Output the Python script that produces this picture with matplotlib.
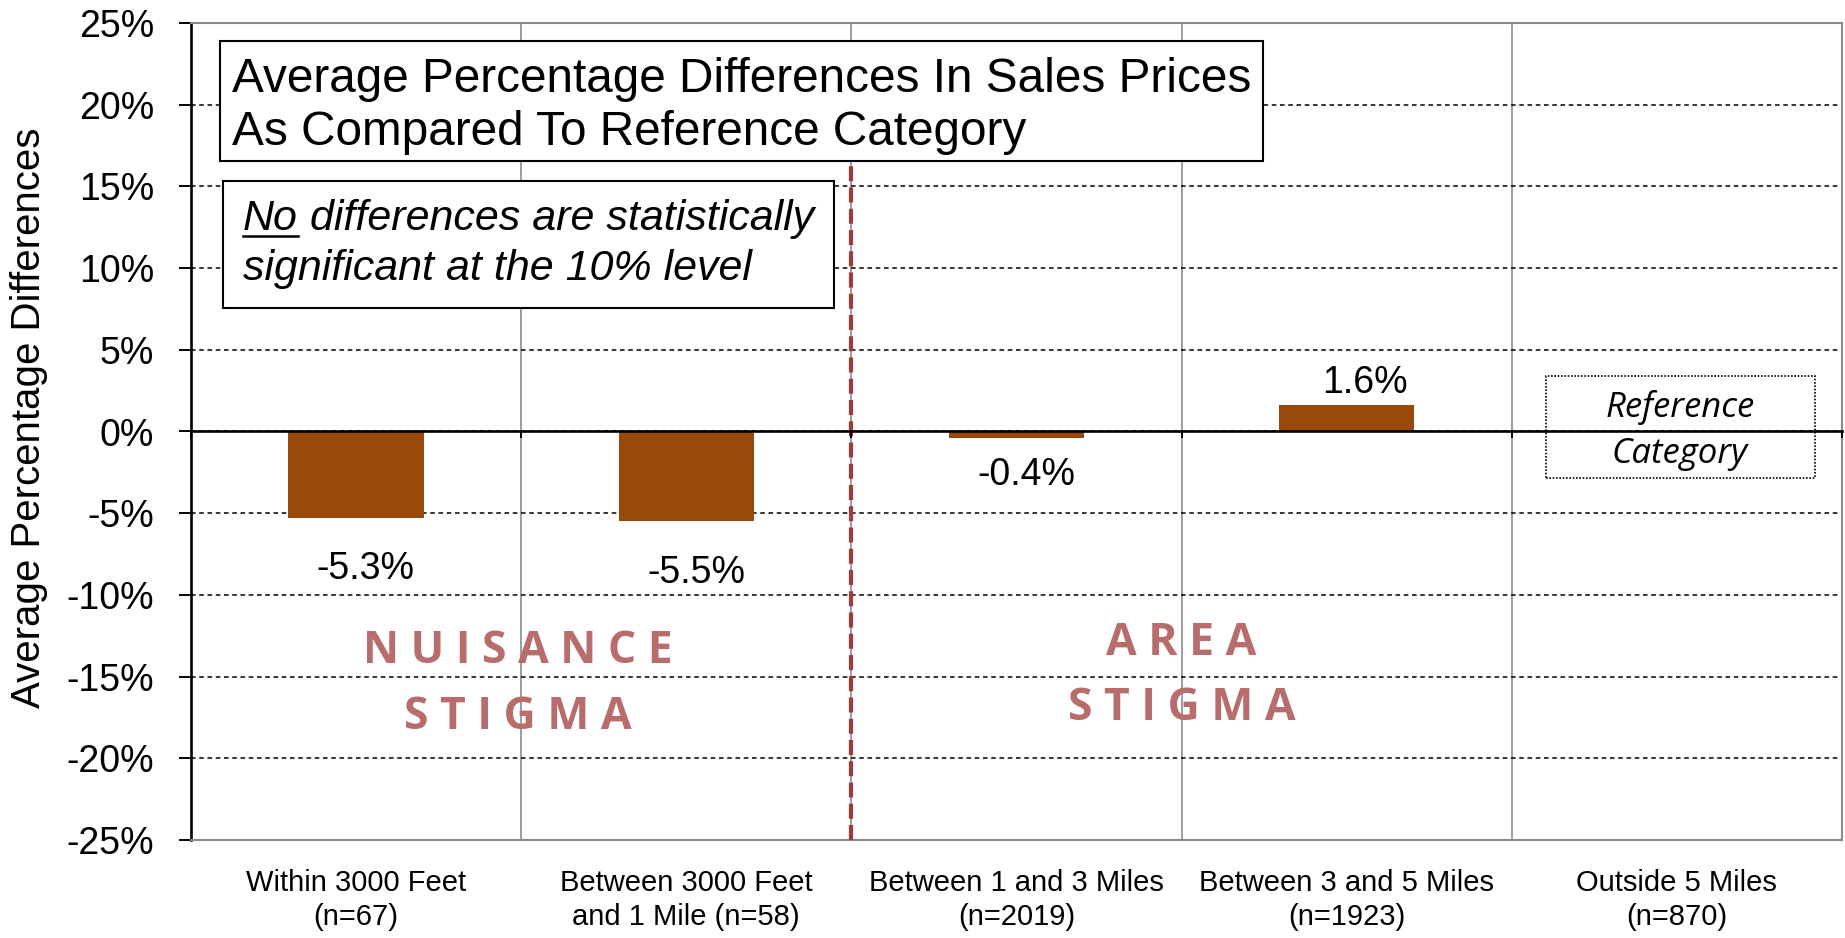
import numpy as np
import matplotlib
matplotlib.use("Agg")
import matplotlib.pyplot as plt
from matplotlib.patches import Rectangle
from matplotlib.lines import Line2D

plt.rcParams['font.family'] = ['Liberation Sans', 'DejaVu Sans']

# data
categories = [
    "Within 3000 Feet\n(n=67)",
    "Between 3000 Feet\nand 1 Mile (n=58)",
    "Between 1 and 3 Miles\n(n=2019)",
    "Between 3 and 5 Miles\n(n=1923)",
    "Outside 5 Miles\n(n=870)",
]
values = [-5.3, -5.5, -0.4, 1.6, np.nan]
value_labels = ["-5.3%", "-5.5%", "-0.4%", "1.6%", ""]
y_ticks = [-25, -20, -15, -10, -5, 0, 5, 10, 15, 20, 25]

# label offsets in points (x, y) from the bar end
label_offsets = [(7, -24), (7, -24.5), (7, -14), (13, 3)]

W, H, DPI = 1845, 938, 100
BAR_COLOR = '#984909'
STIGMA_COLOR = '#B86C6C'


def fx(x):
    return x / W


def fy(y):
    return 1 - y / H


fig = plt.figure(figsize=(W / DPI, H / DPI), dpi=DPI)
ax = fig.add_axes([fx(191), fy(840), fx(1842) - fx(191), fy(23) - fy(840)])

x = np.arange(len(categories))
bounds = np.arange(len(categories) + 1) - 0.5

ax.bar(x, values, width=0.41, color=BAR_COLOR, zorder=3)
ax.set_xlim(bounds[0], bounds[-1])
ax.set_ylim(y_ticks[0], y_ticks[-1])

# axes styling
for side in ['top', 'right', 'bottom']:
    ax.spines[side].set_color('#8a8a8a')
    ax.spines[side].set_linewidth(1.5)
ax.spines['left'].set_color('black')
ax.spines['left'].set_linewidth(1.9)

ax.set_yticks(y_ticks, labels=[f'{v}%' for v in y_ticks])
ax.tick_params(axis='y', length=8.6, width=1.4, pad=18, labelsize=27, direction='out')

ax.set_xticks(x, labels=categories)
ax.set_xticks(bounds, minor=True)
ax.tick_params(axis='x', which='both', length=0, pad=21, labelsize=21)
for lbl in ax.get_xticklabels():
    lbl.set_linespacing(1.25)

ax.grid(axis='y', which='major', color='black', linewidth=1.1, linestyle=(0, (3, 2.4)), zorder=1)
ax.grid(axis='x', which='minor', color='#8c8c8c', linewidth=1.2, linestyle='-', zorder=1)
ax.set_axisbelow(True)

# category axis crossing at zero
sec = ax.secondary_xaxis(0, transform=ax.transData)
sec.set_xticks(bounds, labels=[''] * len(bounds))
sec.tick_params(length=5, width=1.4, color='black', direction='out')
sec.spines['bottom'].set_linewidth(1.9)
sec.spines['bottom'].set_color('black')
sec.set_zorder(5)

# value labels
for i, (v, txt) in enumerate(zip(values, value_labels)):
    if np.isnan(v):
        continue
    dx, dy = label_offsets[i]
    ax.annotate(txt, xy=(i, v), xytext=(dx, dy), textcoords='offset points',
                ha='center', va='top' if v < 0 else 'bottom', fontsize=27, zorder=6)

# divider between nuisance and area stigma
ax.axvline(bounds[2], ymin=0, ymax=0.85, color='#A53838', linewidth=3,
           linestyle=(0, (3.6, 1.5)), zorder=4)

# stigma captions
stig = dict(family=['Open Sans', 'DejaVu Sans'], fontweight='bold', fontsize=32,
            color=STIGMA_COLOR, ha='center', va='baseline', zorder=2)
ax.text(0.49, -14.17, "N U I S A N C E", **stig)
ax.text(0.49, -18.21, "S T I G M A", **stig)
ax.text(2.5, -13.68, "A R E A", **stig)
ax.text(2.5, -17.66, "S T I G M A", **stig)

# title box
ax.add_patch(Rectangle((fx(220), fy(161)), fx(1263) - fx(220), fy(41) - fy(161),
                       transform=fig.transFigure, facecolor='white', edgecolor='black',
                       linewidth=1.5, zorder=7, clip_on=False))
ax.text(fx(232), fy(92), "Average Percentage Differences In Sales Prices",
        transform=fig.transFigure, fontsize=34.4, va='baseline', ha='left', zorder=8)
ax.text(fx(232), fy(145), "As Compared To Reference Category",
        transform=fig.transFigure, fontsize=34.4, va='baseline', ha='left', zorder=8)

# significance note box
ax.add_patch(Rectangle((fx(223), fy(308)), fx(834) - fx(223), fy(181) - fy(308),
                       transform=fig.transFigure, facecolor='white', edgecolor='black',
                       linewidth=1.5, zorder=7, clip_on=False))
no_txt = ax.text(fx(243), fy(230), "No", transform=fig.transFigure, fontsize=31,
                 style='italic', va='baseline', ha='left', zorder=8)
ax.annotate(" differences are statistically", xy=(1, 0), xycoords=no_txt,
            fontsize=31, style='italic', va='bottom', ha='left', zorder=8)
ax.text(fx(243), fy(280), "significant at the 10% level", transform=fig.transFigure,
        fontsize=31, style='italic', va='baseline', ha='left', zorder=8)

# reference category box
ax.add_patch(Rectangle((fx(1546), fy(478)), fx(1815) - fx(1546), fy(376) - fy(478),
                       transform=fig.transFigure, facecolor='none', edgecolor='black',
                       linewidth=1.2, linestyle=(0, (1, 1)), zorder=7, clip_on=False))
ref = dict(transform=fig.transFigure, family=['Open Sans', 'DejaVu Sans'], style='italic',
           fontsize=25, ha='center', va='baseline', zorder=8)
ax.text(fx(1680), fy(417), "Reference", **ref)
ax.text(fx(1680), fy(463), "Category", **ref)

fig.text(fx(29), fy(418), "Average Percentage Differences", rotation=90,
         ha='center', va='center', fontsize=29)

# underline "No"
fig.canvas.draw()
bb = no_txt.get_window_extent(renderer=fig.canvas.get_renderer())
fig.add_artist(Line2D([bb.x0 / W, bb.x1 / W], [fy(236), fy(236)],
                      transform=fig.transFigure, color='black', linewidth=1.8, zorder=9))

fig.savefig('out.png', dpi=DPI)
